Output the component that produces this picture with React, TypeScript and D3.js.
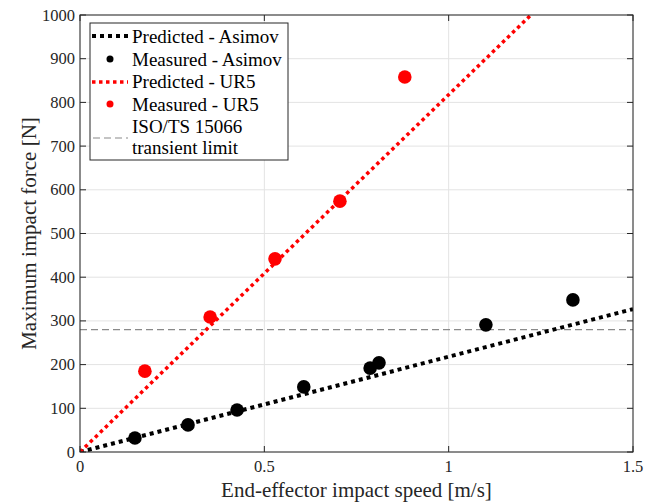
import React from "react";
import * as d3 from "d3";

const asimovSpeed = [0.149, 0.293, 0.426, 0.607, 0.787, 0.811, 1.101, 1.337];
const asimovForce = [32, 62, 96, 149, 192, 204, 291, 348];
const ur5Speed = [0.176, 0.353, 0.529, 0.705, 0.881];
const ur5Force = [185, 309, 442, 574, 858];
const asimovPredSpeed = [0, 1.5];
const asimovPredForce = [0, 327];
const ur5PredSpeed = [0, 1.223];
const ur5PredForce = [0, 1000];
const isoLimit = 280;
const xTicks = [0, 0.5, 1, 1.5];
const yTicks = [0, 100, 200, 300, 400, 500, 600, 700, 800, 900, 1000];
const legendItems = ["Predicted - Asimov", "Measured - Asimov", "Predicted - UR5", "Measured - UR5"];

const L = 80, R = 633, T = 15, B = 452;
const font = "'Liberation Serif', 'Times New Roman', serif";

export default function App() {
  const x = d3.scaleLinear().domain([0, 1.5]).range([L, R]);
  const y = d3.scaleLinear().domain([0, 1000]).range([B, T]);
  const line = d3.line<[number, number]>().x(d => x(d[0])).y(d => y(d[1]));
  const asimovPred = line(asimovPredSpeed.map((s, i) => [s, asimovPredForce[i]]) as [number, number][]);
  const ur5Pred = line(ur5PredSpeed.map((s, i) => [s, ur5PredForce[i]]) as [number, number][]);
  const tl = 6;
  return (
    <svg width={658} height={503} style={{ position: "absolute", left: 0, top: 0, background: "#fff" }}>
      <defs>
        <clipPath id="plot"><rect x={L} y={T} width={R - L} height={B - T} /></clipPath>
      </defs>
      <rect x={0} y={0} width={658} height={503} fill="#fff" />
      {xTicks.map(t => (
        <line key={"gx" + t} x1={x(t)} x2={x(t)} y1={T} y2={B} stroke="#e3e3e3" strokeWidth={1} />
      ))}
      {yTicks.map(t => (
        <line key={"gy" + t} x1={L} x2={R} y1={y(t)} y2={y(t)} stroke="#e3e3e3" strokeWidth={1} />
      ))}
      <g clipPath="url(#plot)">
        <line x1={L} x2={R} y1={y(isoLimit)} y2={y(isoLimit)} stroke="#8a8a8a" strokeWidth={1.2} strokeDasharray="7,4" />
        <path d={asimovPred || ""} stroke="#000" strokeWidth={4} strokeDasharray="4,4" fill="none" />
        <path d={ur5Pred || ""} stroke="#ff0000" strokeWidth={3.5} strokeDasharray="3.5,3.5" fill="none" />
      </g>
      {asimovSpeed.map((s, i) => (
        <circle key={"a" + i} cx={x(s)} cy={y(asimovForce[i])} r={6.8} fill="#000" />
      ))}
      {ur5Speed.map((s, i) => (
        <circle key={"u" + i} cx={x(s)} cy={y(ur5Force[i])} r={6.8} fill="#ff0000" />
      ))}
      <rect x={L} y={T} width={R - L} height={B - T} fill="none" stroke="#262626" strokeWidth={1} />
      {xTicks.map(t => (
        <g key={"tx" + t}>
          <line x1={x(t)} x2={x(t)} y1={B} y2={B - tl} stroke="#262626" />
          <line x1={x(t)} x2={x(t)} y1={T} y2={T + tl} stroke="#262626" />
          <text x={x(t)} y={B + 20} textAnchor="middle" fontFamily={font} fontSize={16.5} fill="#262626">{t}</text>
        </g>
      ))}
      {yTicks.map(t => (
        <g key={"ty" + t}>
          <line x1={L} x2={L + tl} y1={y(t)} y2={y(t)} stroke="#262626" />
          <line x1={R} x2={R - tl} y1={y(t)} y2={y(t)} stroke="#262626" />
          <text x={L - 5} y={y(t) + 5.5} textAnchor="end" fontFamily={font} fontSize={16.5} fill="#262626">{t}</text>
        </g>
      ))}
      <text x={(L + R) / 2} y={497} textAnchor="middle" fontFamily={font} fontSize={21} fill="#262626">End-effector impact speed [m/s]</text>
      <text transform={`translate(36,${(T + B) / 2}) rotate(-90)`} textAnchor="middle" fontFamily={font} fontSize={21} fill="#262626">Maximum impact force [N]</text>
      <g>
        <rect x={90} y={23} width={198} height={137} fill="#fff" stroke="#262626" strokeWidth={1} />
        <line x1={92} x2={128} y1={36} y2={36} stroke="#000" strokeWidth={4} strokeDasharray="4,4" />
        <circle cx={110} cy={59} r={3.5} fill="#000" />
        <line x1={92} x2={128} y1={82} y2={82} stroke="#ff0000" strokeWidth={3.5} strokeDasharray="3.5,3.5" />
        <circle cx={110} cy={104} r={3.5} fill="#ff0000" />
        <line x1={93} x2={128} y1={138} y2={138} stroke="#8a8a8a" strokeWidth={1.2} strokeDasharray="7,4" />
        {legendItems.map((s, i) => (
          <text key={s} x={132} y={43 + i * 22.5} fontFamily={font} fontSize={19} fill="#000">{s}</text>
        ))}
        <text x={132} y={133} fontFamily={font} fontSize={19} fill="#000">ISO/TS 15066</text>
        <text x={132} y={154} fontFamily={font} fontSize={19} fill="#000">transient limit</text>
      </g>
    </svg>
  );
}
